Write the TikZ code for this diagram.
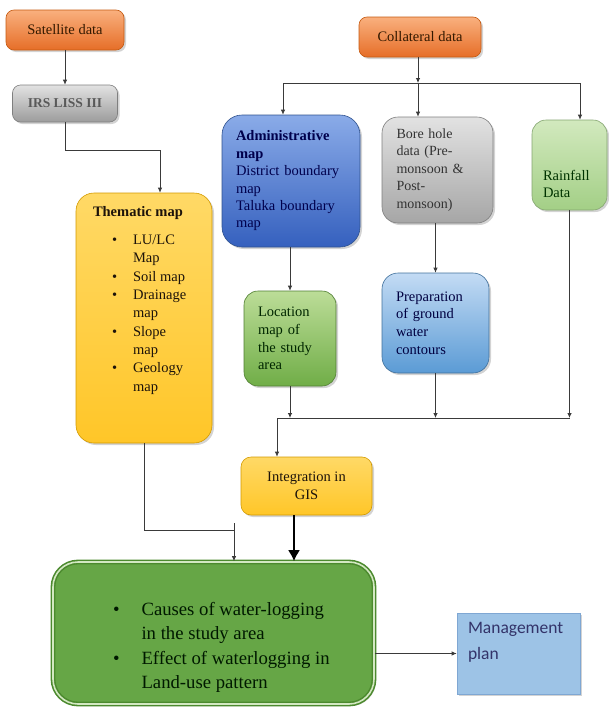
\documentclass[tikz,border=0pt]{standalone}
\usepackage{fontspec}
\setmainfont{Liberation Serif}
\newfontfamily\calibri{Carlito}
\usetikzlibrary{positioning, arrows.meta, shadows}
\definecolor{linec}{HTML}{3A3A3A}
\definecolor{orgtop}{HTML}{F9B07E}\definecolor{orgbot}{HTML}{E66E28}\definecolor{orgdraw}{HTML}{C55A11}
\definecolor{grytop}{HTML}{E2E2E2}\definecolor{grybot}{HTML}{9C9C9C}\definecolor{grydraw}{HTML}{7F7F7F}
\definecolor{ylwtop}{HTML}{FFD966}\definecolor{ylwmid}{HTML}{FFB900}\definecolor{ylwbot}{HTML}{FFC628}\definecolor{ylwdraw}{HTML}{D39A00}
\definecolor{blutop}{HTML}{8AABE8}\definecolor{blubot}{HTML}{3560BE}\definecolor{bludraw}{HTML}{2F528F}
\definecolor{lbltop}{HTML}{C3DBF4}\definecolor{lblbot}{HTML}{5B9BD5}\definecolor{lbldraw}{HTML}{41719C}
\definecolor{grntop}{HTML}{BCDD98}\definecolor{grnbot}{HTML}{70AD47}\definecolor{grndraw}{HTML}{507E32}
\definecolor{raintop}{HTML}{D2E9BE}\definecolor{rainbot}{HTML}{A3CF86}
\definecolor{bigfill}{HTML}{66A646}\definecolor{bigdraw}{HTML}{4C8A2E}\definecolor{bigline}{HTML}{D3E8C2}
\definecolor{mgtfill}{HTML}{9DC3E6}\definecolor{mgtdraw}{HTML}{7FA7D3}
\newcommand{\tbox}[3]{\begin{minipage}[c][#1][t]{#2}#3\end{minipage}}
\tikzset{box/.style={draw, line width=0.6pt, rounded corners=12pt, inner sep=0pt,
           drop shadow={shadow xshift=2pt, shadow yshift=-2pt, opacity=0.35}},
         orangebox/.style={box, draw=orgdraw, top color=orgtop, bottom color=orgbot, rounded corners=8pt,
           text=black!80!orange, font=\fontsize{14.5}{17}\selectfont},
         link/.style={draw=linec, line width=0.8pt, -{Latex[length=5pt,width=4.5pt]}},
         plain/.style={draw=linec, line width=0.8pt},
         thicklink/.style={draw=black, line width=1.8pt, -{Latex[length=11pt,width=12pt]}},
        }

\begin{document}
\begin{tikzpicture}[x=1pt, y=-1pt]
        \useasboundingbox (0,0) rectangle (609,707);
        % left column
        \node[orangebox, minimum width=118pt, minimum height=40pt](sat)at(65,30){Satellite data};
        \node[box, draw=grydraw, top color=grytop, bottom color=grybot, rounded corners=8pt,
              minimum width=105pt, minimum height=37pt, text=black!65, font=\bfseries\fontsize{13.5}{17}\selectfont](irs)at(65,103.5){IRS LISS III};
        \node[box, draw=ylwdraw, top color=ylwtop, middle color=ylwmid, bottom color=ylwbot, rounded corners=18pt,
              text=black!85!brown, font=\fontsize{14.5}{18.3}\selectfont](them)at(144,318){\tbox{250pt}{136pt}{%
            \vspace*{13pt}\hspace*{17pt}\textbf{Thematic map}\par\vspace{11.7pt}
            \hspace*{36pt}\begin{tabular}{@{}l@{\hspace{16pt}}l@{}}
              \textbullet & LU/LC\\ & Map\\ \textbullet & Soil map\\ \textbullet & Drainage\\ & map\\
              \textbullet & Slope\\ & map\\ \textbullet & Geology\\ & map
            \end{tabular}}};
        % right part
        \node[orangebox, minimum width=122pt, minimum height=40pt](coll)at(420,37){Collateral data};
        \node[box, draw=bludraw, top color=blutop, bottom color=blubot, rounded corners=20pt,
              minimum width=138pt, minimum height=132pt, text width=110pt, inner xsep=14pt, align=left,
              text=blue!30!black, font=\fontsize{14.5}{17.4}\selectfont](admin)at(291,181)
              {\textbf{Administrative}\\\textbf{map}\\District boundary\\map\\Taluka boundary\\map};
        \node[box, draw=grydraw, top color=grytop, bottom color=grybot!90, rounded corners=16pt,
              minimum width=111pt, minimum height=106pt, text width=82pt, inner xsep=14.5pt, align=left,
              text=black!80, font=\fontsize{14}{17.4}\selectfont](bore)at(437.5,170)
              {Bore hole\\data (Pre-\\monsoon \&\\Post-\\monsoon)};
        \node[box, draw=grndraw!70, top color=raintop, bottom color=rainbot, rounded corners=14pt,
              text=green!20!black, font=\fontsize{14.5}{17.4}\selectfont](rain)at(569.5,165)
              {\tbox{90pt}{75pt}{\vspace*{50pt}\hspace*{11pt}Rainfall\par\hspace*{11pt}Data}};
        \node[box, draw=grndraw, top color=grntop, bottom color=grnbot, rounded corners=14pt,
              minimum width=92pt, minimum height=95pt, text width=64pt, inner xsep=14pt, align=left,
              text=green!15!black, font=\fontsize{14.5}{17.6}\selectfont](loc)at(290,338.5)
              {Location\\map of\\the study\\area};
        \node[box, draw=lbldraw, top color=lbltop, bottom color=lblbot, rounded corners=16pt,
              minimum width=107pt, minimum height=100pt, text width=79pt, inner xsep=14pt, align=left,
              text=blue!25!black, font=\fontsize{14.5}{17.6}\selectfont](prep)at(435.5,323)
              {Preparation\\of ground\\water\\contours};
        \node[box, draw=ylwdraw, top color=ylwtop, middle color=ylwmid, bottom color=ylwbot, rounded corners=10pt,
              minimum width=131pt, minimum height=58pt, align=center,
              text=black!85!brown, font=\fontsize{14.5}{18}\selectfont](integ)at(306.5,486){Integration in\\GIS};
        % bottom
        \node[box, fill=bigfill, draw=bigdraw, line width=1.6pt, double=bigline, double distance=1.6pt,
              rounded corners=25pt, text=green!10!black, font=\fontsize{18.7}{24.5}\selectfont](big)at(213.5,633)
              {\tbox{142pt}{321pt}{\vspace*{36pt}\hspace*{60pt}\begin{tabular}{@{}l@{\hspace{22pt}}l@{}}
                \textbullet & Causes of water-logging\\ & in the study area\\
                \textbullet & Effect of waterlogging in\\ & Land-use pattern
              \end{tabular}}};
        \node[box, fill=mgtfill, draw=mgtdraw, rounded corners=0pt, text=black!65!blue!60!gray,
              font=\calibri\fontsize{17.5}{26}\selectfont](mgmt)at(518.5,653.5)
              {\tbox{81pt}{123pt}{\vspace*{9pt}\hspace*{11pt}Management\par\hspace*{11pt}plan}};

        % connectors
        \coordinate(irsbend)at(160,150);
        \draw[link](sat.south)--(irs.north);
        \draw[link](irs.south)|-(irsbend)--(irsbend |- them.north);

        \coordinate(cL)at(283,83);
        \coordinate(cM)at(418,83);
        \coordinate(cR)at(580,83);
        \draw[link](coll.south -| cM)--(cM);
        \draw[plain](cL)--(cR);
        \draw[link](cL)--(cL |- admin.north);
        \draw[link](cM)--(cM |- bore.north);
        \draw[link](cR)--(cR |- rain.north);
        \draw[link](admin.south -| loc.north)--(loc.north);
        \draw[link](bore.south -| prep.north)--(prep.north);

        \coordinate(mL)at(277,418);
        \coordinate(mR)at(570,418);
        \draw[plain](mL)--(mR);
        \draw[link](loc.south)--(loc.south |- mR);
        \draw[link](prep.south)--(prep.south |- mR);
        \draw[link](rain.south)--(rain.south |- mR);
        \draw[link](mL)--(mL |- integ.north);

        \coordinate(tj)at(234,530);
        \coordinate(tjtop)at(234,523);
        \coordinate(gx)at(294,0);
        \draw[plain](them.south)|-(tj);
        \draw[link](tjtop)--(tjtop |- big.north);
        \draw[thicklink](integ.south -| gx)--(big.north -| gx);
        \draw[link](big.east |- mgmt.west)--(mgmt.west);
\end{tikzpicture}
\end{document}
